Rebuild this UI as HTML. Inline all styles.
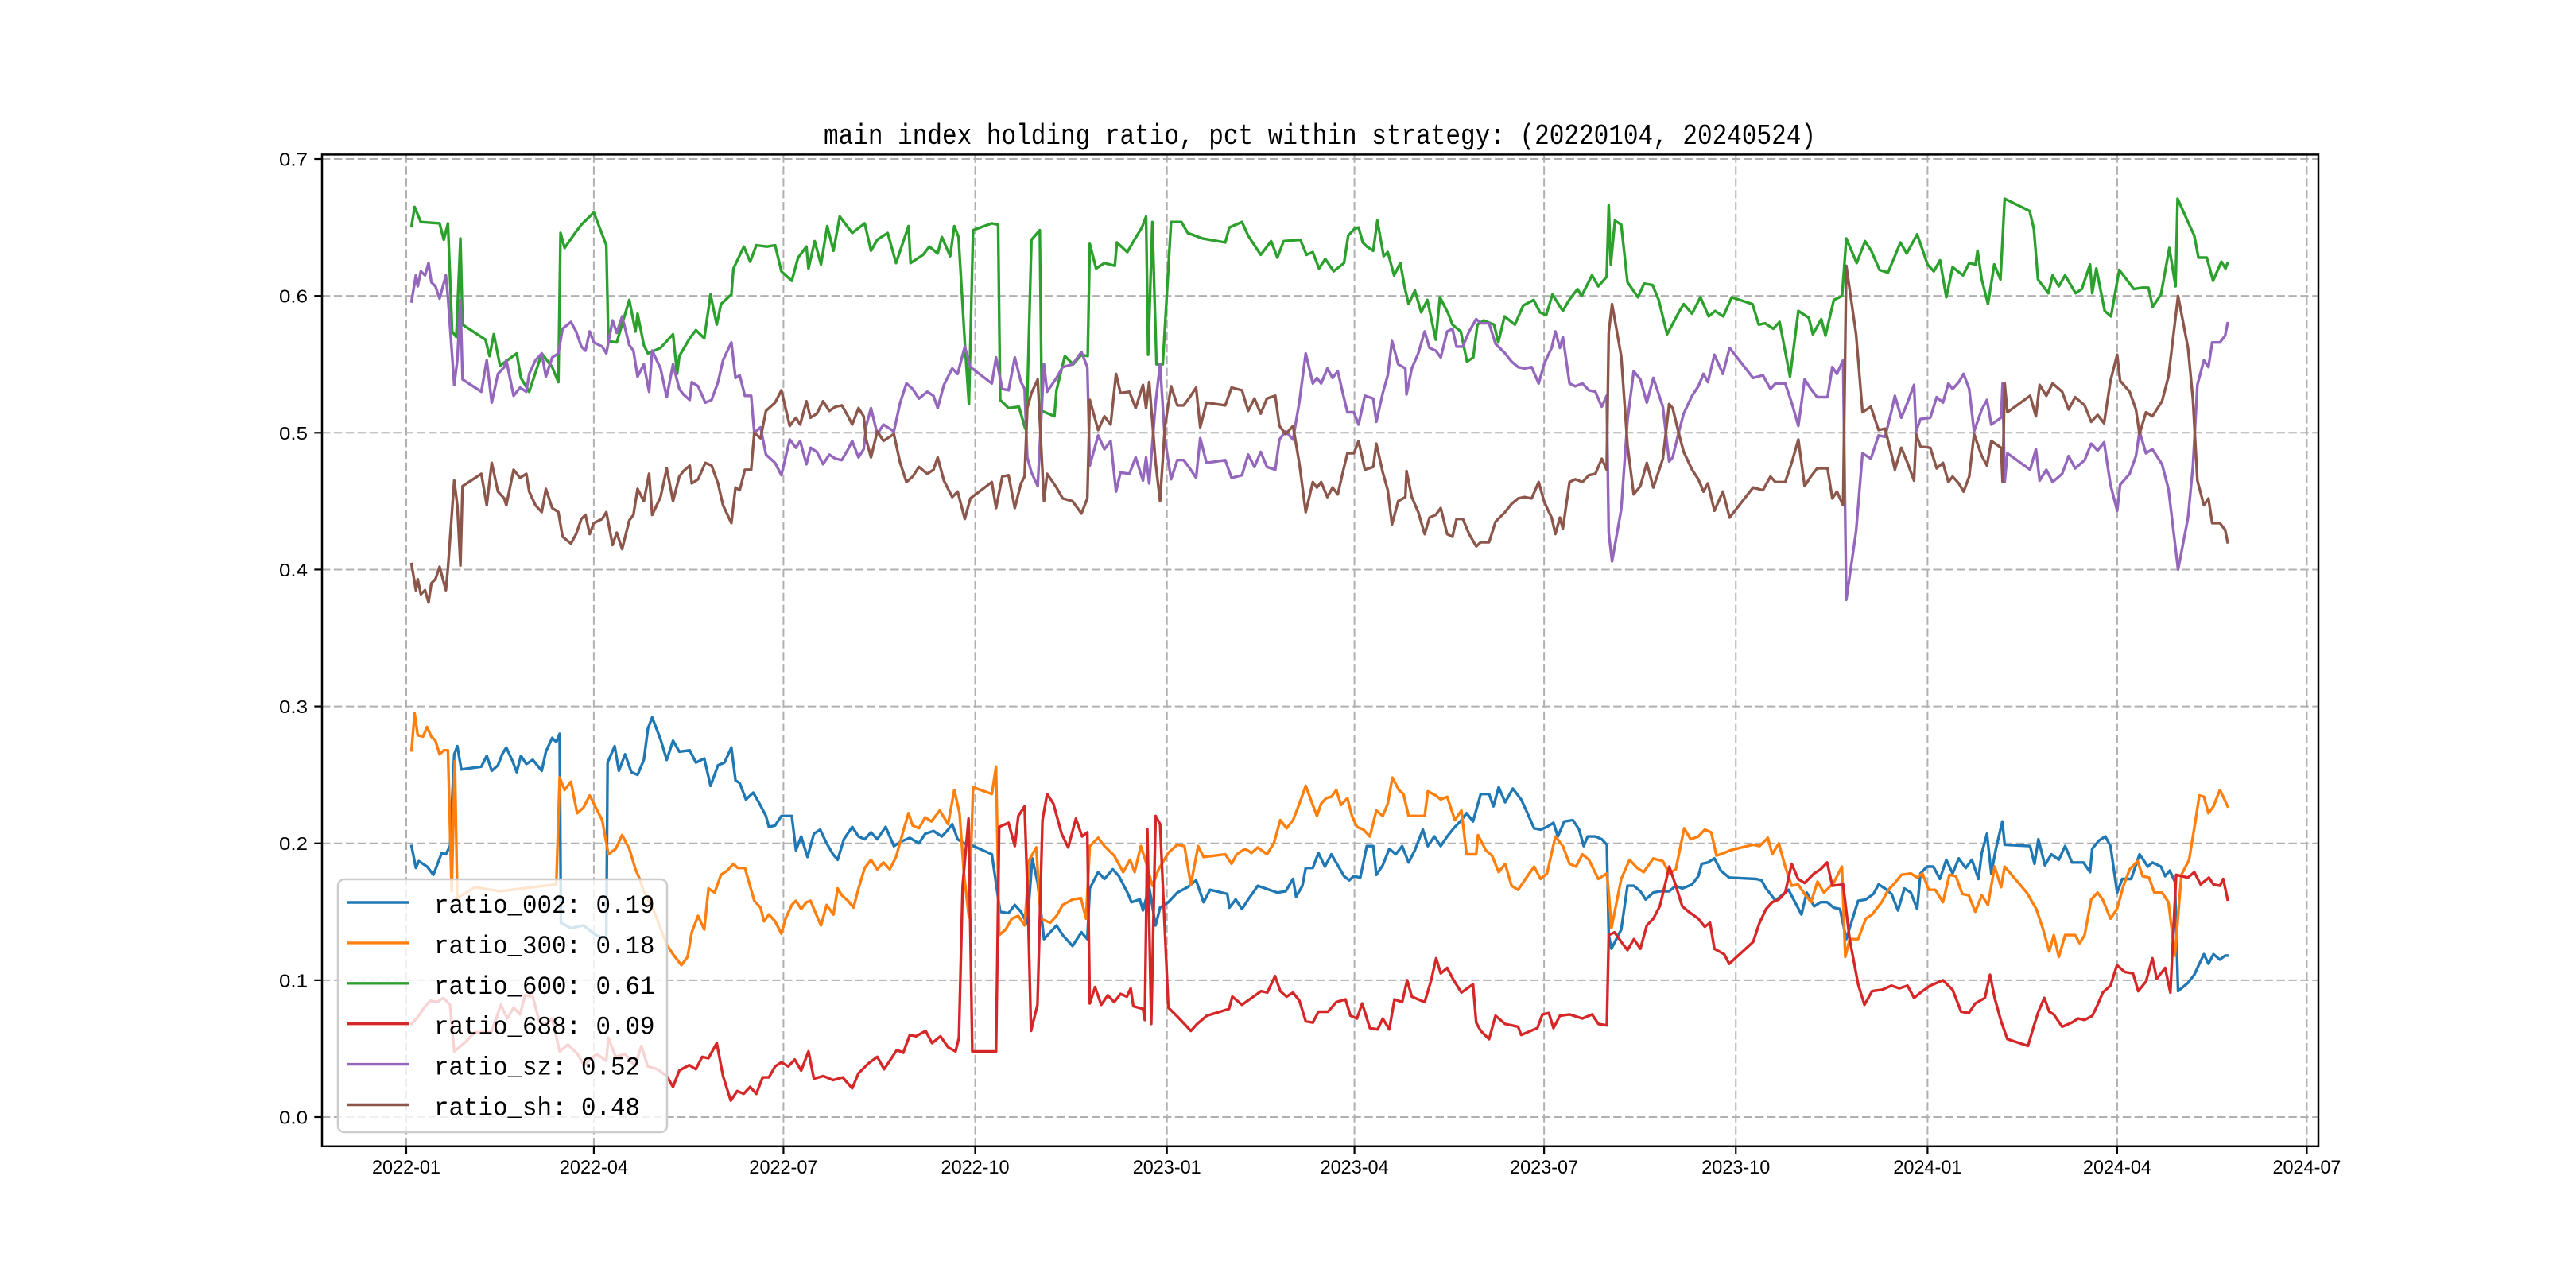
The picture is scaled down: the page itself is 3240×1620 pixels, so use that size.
<!DOCTYPE html>
<html><head><meta charset="utf-8"><title>main index holding ratio</title>
<style>html,body{margin:0;padding:0;background:#fff;}svg{display:block;}</style></head>
<body>
<svg id="chart" width="3240" height="1620" viewBox="0 0 3240 1620" xmlns="http://www.w3.org/2000/svg">
<rect x="0" y="0" width="3240" height="1620" fill="#ffffff"/>
<text x="1660" y="181" text-anchor="middle" font-family="Liberation Mono, monospace" font-size="36" textLength="1248" lengthAdjust="spacingAndGlyphs" fill="#000">main index holding ratio, pct within strategy: (20220104, 20240524)</text>
<g id="grid"></g>
<g id="series"></g>
<rect x="405" y="194.4" width="2511" height="1247.4" fill="none" stroke="#000" stroke-width="2.5"/>
<g id="ticks"></g>
<g id="legend">
<rect x="425" y="1106" width="414" height="318" rx="8" fill="#fff" fill-opacity="0.8" stroke="#cccccc" stroke-width="2.5"/>
</g>
</svg>
<script>
const tickDates = ['2022-01','2022-04','2022-07','2022-10','2023-01','2023-04','2023-07','2023-10','2024-01','2024-04','2024-07'];
const yTicks = [0.0,0.1,0.2,0.3,0.4,0.5,0.6,0.7];
const yTickLabels = ['0.0','0.1','0.2','0.3','0.4','0.5','0.6','0.7'];
const seriesNames = ['ratio_002','ratio_300','ratio_600','ratio_688','ratio_sz','ratio_sh'];
const legendValues = ['0.19','0.18','0.61','0.09','0.52','0.48'];
const colors = ['#1f77b4','#ff7f0e','#2ca02c','#d62728','#9467bd','#8c564b'];

// days since 2022-01-01
const days002 = [2.5,4.6,6,10,13,17,19,21,23,24.5,26.4,36,38.6,41,44,46,48,51,53,55,57.6,60.7,65,67,70,72,73.6,74.2,79,85,91,96,96.6,100,102,105,108,111,114,116,118,122,125,128,131,136,139,143,146,149.6,152.7,156,158,160,163,166.5,169.5,172.6,174,177,180,185,187,189.5,192.5,195.6,198.6,201.7,204.8,207,210,214,217,220,223,226,230,234,237,241.6,246,249,253,257,260,262,264.6,267.6,270.7,281,285,289,292,295,298,300.4,303,306,309,312,315,319.7,324,326.8,328,332,335,339,342,346.4,348,352,353.5,356.5,359.6,361.7,365.7,370,375,379,382.6,385.7,394,395,398,401,404,408.6,418,422,425.5,427,430,431.6,
435,437.7,440.8,443.9,447,450,452.5,454.7,457.8,460.9,464,465.5,468.6,471.7,474.8,477.9,481,484,487.8,490.2,493.3,496.4,499.5,502.6,506.3,508.8,511.9,515.6,519.6,521.7,524.2,527.3,531,535,538,541.2,544.3,547.4,550.5,552.6,555.7,559.8,562.8,565,566.9,570.6,573.7,576.1,577,578.3,583,586,589,592.2,594.7,598.4,601.5,606,609.2,612.3,617,620,621.6,624.6,627.7,630.8,634.8,647.8,650.3,652.5,654.6,657,660,663.3,666.4,669.5,672,675.6,678.7,681.8,684.9,688,691,693.6,696.7,700.4,704,706.5,709.6,712.7,715.8,718.9,722,725,726.6,729.7,732.8,735.9,739,742,745,748.3,751.3,754.4,756,758.5,760.6,762.8,765.9,767,779.2,781.3,783.2,786.3,789.4,793,796,799.3,801.7,804.8,808,809,812.2,815.3,817.8,821,823.4,827.7,831.7,835.7,837.9,842,844,846.2,848.7,850.2,854.9,858,859.5,862.6,864.8,867.2,870.3,872.8,874];
const vals002 = [.198,.182,.187,.183,.177,.193,.192,.198,.265,.271,.254,.256,.264,.253,.257,.265,.270,.260,.252,.264,.258,.261,.253,.267,.277,.274,.280,.142,.138,.140,.133,.130,.259,.271,.253,.265,.252,.250,.261,.284,.292,.276,.261,.275,.267,.268,.259,.262,.242,.257,.259,.270,.246,.244,.232,.237,.229,.220,.212,.213,.220,.220,.195,.205,.190,.207,.210,.200,.192,.188,.203,.212,.205,.203,.208,.203,.212,.198,.201,.204,.200,.207,.209,.205,.210,.214,.203,.200,.199,.192,.150,.149,.155,.150,.141,.189,.171,.130,.135,.140,.133,.125,.135,.130,.167,.179,.174,.181,.176,.163,.157,.159,.151,.168,.140,.153,.157,.164,.168,.173,.157,.166,.163,.153,.159,.152,.159,.169,.164,.165,.174,.161,.169,.182,
.182,.193,.183,.192,.184,.176,.173,.176,.175,.198,.198,.177,.184,.196,.192,.198,.186,.195,.210,.198,.205,.198,.205,.211,.217,.222,.216,.236,.236,.227,.241,.230,.240,.232,.222,.211,.210,.212,.215,.205,.216,.217,.210,.198,.205,.205,.203,.199,.133,.123,.137,.169,.169,.165,.159,.164,.165,.165,.169,.167,.170,.176,.185,.186,.189,.180,.175,.174,.173,.167,.163,.158,.162,.166,.157,.148,.164,.154,.157,.157,.153,.152,.130,.143,.158,.159,.163,.170,.167,.163,.151,.167,.164,.152,.178,.183,.183,.174,.188,.178,.189,.182,.188,.174,.193,.207,.178,.196,.216,.199,.198,.185,.203,.184,.192,.188,.198,.186,.186,.186,.179,.196,.202,.205,.198,.164,.174,.174,.192,.183,.186,.183,.176,.180,.172,.092,.098,.104,.109,.119,.112,.119,.115,.118,.118];

const days300 = [2.5,4,5.5,8,10,12,14,16,18,20,21.8,23.3,24.5,33,45,61,72,73.6,76,79,82,85,88,91,94,97,100.5,103.6,107,110,112,114,119,125,128,132,135,137,140,143,145,148,151,154,157,159,162.5,164,167,170,171.7,174,177,180,182,185,187,189.5,192,194,197,199,201.7,205,207,209,212,214.6,217,220,223,226,229,232,235,238.5,241,243,246,249,252,256,260,263,265.5,267.6,270,272,281,283,284.5,287.6,290.6,293.7,296.7,299,302.3,304.4,309,312,315,319.7,323.7,326.2,328,332,335,339.7,344,347.3,349.5,352.5,355,358,361,365.7,370,373.4,376.5,380,382.6,393,396,398.5,402.5,405.6,408.6,413,416.3,419.4,422.4,425.5,428.6,431.6,
435,437,439,441.4,443.9,446.3,448.5,451.6,453.8,456.2,459.3,462.4,465.5,468.6,471,473.2,476.3,478.5,481,488.7,490.2,494,496.4,499.5,503.2,506.3,508.8,513.4,514.3,518,521,524.2,527.3,530.4,533.5,538,541.2,544.3,547.4,551.4,555,558.2,561.3,564.4,567.5,572,576.1,577,578.3,583,587,590.7,593.8,598.4,603,606,609.2,613.2,616.3,620,623.1,626.2,628.7,632.4,635.5,646.3,649.4,653.4,655.5,658.6,661.7,664.8,667.9,671,674.1,677.2,680.3,684.9,688.9,690.5,692.6,696.7,700.4,703.4,708,711.2,714.3,717.4,722,725,727.5,730.6,733.7,737.4,740.5,743.6,746.7,749.8,752.9,756,759,762.2,765.3,767,777.6,782.2,785.3,788.4,790.6,793,796,800.8,803,805.4,808.5,811.6,814,817.8,820.9,824,827,830.8,833.2,836.3,838.8,842.5,845.6,848.7,851.8,855.5,858.6,860.4,862.6,864.8,867.2,870.3,871.9,874];
const vals300 = [.268,.295,.279,.278,.285,.278,.275,.265,.268,.268,.165,.260,.160,.168,.165,.168,.170,.248,.239,.245,.222,.226,.235,.226,.217,.192,.196,.206,.196,.181,.174,.165,.150,.126,.119,.111,.117,.135,.147,.137,.167,.164,.177,.180,.185,.182,.182,.174,.158,.153,.143,.148,.143,.134,.145,.155,.158,.152,.157,.158,.147,.140,.155,.148,.167,.162,.158,.153,.167,.182,.188,.181,.186,.181,.190,.209,.222,.213,.211,.219,.216,.224,.214,.239,.222,.178,.146,.241,.236,.256,.133,.137,.145,.147,.140,.188,.197,.145,.142,.147,.155,.159,.160,.145,.198,.204,.198,.191,.179,.188,.179,.198,.186,.169,.181,.193,.199,.198,.170,.198,.190,.192,.185,.192,.196,.193,.197,.192,.200,.217,.211,.217,.229,.242,
.228,.220,.229,.233,.234,.239,.228,.233,.220,.212,.210,.205,.224,.220,.229,.248,.239,.236,.220,.220,.238,.235,.232,.234,.217,.224,.192,.192,.206,.195,.191,.179,.185,.169,.166,.176,.183,.174,.178,.205,.198,.185,.183,.192,.188,.174,.178,.164,.138,.174,.188,.182,.179,.189,.187,.178,.181,.211,.203,.205,.210,.208,.191,.193,.195,.199,.198,.204,.192,.200,.183,.169,.170,.163,.157,.172,.164,.171,.183,.117,.130,.130,.145,.148,.157,.166,.171,.177,.178,.175,.178,.166,.166,.157,.177,.176,.163,.162,.150,.162,.155,.183,.168,.183,.164,.152,.138,.121,.133,.117,.133,.133,.127,.133,.159,.164,.159,.145,.152,.169,.181,.187,.176,.175,.164,.164,.157,.118,.177,.188,.217,.235,.234,.222,.227,.239,.234,.227];

const days600 = [2.5,4,7,16,18,20,22,24,26,27,38,40,42,45,53,55,59,65,70,73,74,76,81,84,90,96,97,101,107,110,111,114,116,122,128,130,131,136,139,143,146,149,151,156,157,162,165,168,173,177,180,185,188,192,193,196,199,202,205,208,214,220,223,226,231,235,241,242,248,251,255,257,261,263,265,268,270,272,281,284,285,289,294,297,298,300,304,305,311,312,316,320,324,327,328,331,335,340,341,346,349,353,355,356,358,360,363,367,372,375,382,393,395,401,404,410,415,418,421,429,432,
435,438,441,445,450,452,455,457,459,461,464,466,469,471,474,477,479,481,484,487,490,494,496,500,502,506,509,512,514,517,522,524,527,532,536,541,544,547,550,555,558,562,564,569,572,576,577,578,580,583,586,591,594,598,601,605,611,613,617,621,625,628,632,636,646,649,652,656,659,664,668,673,675,679,681,685,689,691,696,700,703,707,711,714,717,720,725,730,733,736,739,742,747,750,753,754,756,759,762,765,767,779,781,783,788,790,793,796,801,804,808,809,811,815,818,822,829,833,836,838,842,846,849,850,855,858,860,864,867,871,873,874];
const vals600 = [.651,.665,.654,.653,.641,.653,.574,.570,.642,.579,.568,.556,.572,.549,.558,.540,.530,.558,.548,.537,.646,.635,.646,.652,.661,.637,.567,.566,.597,.574,.587,.564,.558,.562,.572,.543,.556,.569,.575,.569,.601,.579,.594,.601,.620,.636,.625,.637,.636,.637,.618,.611,.628,.636,.620,.640,.623,.651,.633,.658,.646,.653,.633,.641,.646,.624,.651,.624,.630,.636,.631,.643,.629,.651,.643,.566,.521,.648,.653,.652,.524,.518,.519,.503,.526,.641,.648,.516,.512,.531,.556,.550,.557,.556,.638,.620,.624,.622,.639,.632,.640,.650,.658,.557,.654,.550,.550,.654,.654,.646,.642,.639,.650,.654,.644,.630,.640,.628,.640,.641,.630,
.632,.620,.627,.618,.624,.644,.649,.650,.639,.636,.633,.655,.629,.632,.615,.624,.607,.594,.604,.588,.597,.568,.599,.587,.579,.574,.552,.555,.579,.582,.579,.566,.585,.579,.593,.597,.588,.586,.601,.589,.597,.605,.600,.615,.607,.614,.666,.623,.655,.652,.610,.599,.609,.608,.597,.572,.589,.594,.587,.599,.585,.589,.585,.599,.594,.579,.580,.576,.581,.541,.589,.584,.572,.583,.571,.597,.600,.642,.624,.640,.633,.619,.617,.628,.639,.631,.645,.623,.618,.626,.599,.621,.615,.624,.623,.633,.612,.594,.623,.612,.671,.662,.649,.612,.602,.615,.607,.615,.602,.605,.623,.602,.620,.589,.585,.619,.605,.606,.606,.592,.601,.635,.607,.671,.654,.644,.628,.628,.611,.625,.620,.624];

const days688 = [2.5,5.5,8.6,11.6,14.7,17.8,21,23,25.4,28.5,33,37.7,40.8,45.4,48.4,51.5,54.6,57,60.7,63.8,66.8,70,73.6,77.6,82.2,85.2,91.4,96,97,100.5,105,109.7,112.8,115.9,120.5,125,128,131,135.8,138.9,142,145,149,152,155.7,158.8,161.9,165,168,171,174,177,180,183.3,186.4,189.5,193,195.6,200.2,204.8,209.4,214,217,221.6,226,229.3,232.4,235.4,238.5,241.6,244.6,249.2,252.3,256.3,260,263.6,265.2,267,269.8,271.6,283,284.5,289,292,293.7,296.7,298.3,299.8,302.9,305.3,307.5,310.5,314.5,317.6,321.3,324.3,326.8,328,330.5,333.5,336.6,339.7,342.7,345.8,347.6,348.9,353.5,354.4,355.6,357.5,359.6,361.7,365.7,370.3,376.5,379.5,384.1,394.8,396.4,401,405.6,410.2,413.2,416.9,419.4,422.4,425.5,428.6,431.6,
435,437.7,442.3,446.3,450.7,453.1,456.2,458.7,462.4,466.1,468.6,471.7,474.2,477.9,480.3,482.5,488.7,491.8,494.2,496.4,499.5,502.6,506.3,511.9,513.4,515.6,519.6,522.7,527.3,533.5,535,542.8,545.2,548.3,550.5,553.6,558.2,564.4,569,572.1,576.1,577,579.8,583.5,586,589.1,592.2,595.3,598.4,601.5,603.9,606.1,609.2,612.3,615.4,620,623.1,625.6,627.7,632.4,634.8,646.3,649.4,652.5,655.5,658.6,661.7,664.8,667.9,671,675.6,678.7,681.8,684.3,689.5,692.6,696.7,699.7,703.4,708.1,712.7,716.4,720.4,723.5,726.6,731.3,737.4,742,746.1,749.8,752.9,757.5,760,762.2,765.3,768.3,778.2,780.7,783.2,786,788.4,790.6,794.6,799.2,802.3,805.4,809.1,811.6,814.1,817.8,820.9,824.6,828.6,831.1,834.8,837.9,840,844,846.5,849.3,854.9,858,861,865,867.2,870.3,871.9,874];
const vals688 = [.068,.073,.080,.085,.084,.087,.082,.048,.051,.055,.062,.062,.062,.082,.072,.080,.075,.089,.088,.070,.068,.072,.048,.053,.046,.038,.046,.041,.058,.044,.046,.037,.052,.037,.035,.030,.022,.034,.038,.035,.044,.043,.054,.030,.012,.019,.017,.022,.017,.029,.029,.037,.040,.037,.042,.034,.048,.028,.030,.027,.029,.021,.032,.039,.044,.035,.042,.049,.047,.060,.059,.063,.054,.059,.051,.048,.058,.169,.218,.048,.048,.212,.215,.198,.220,.227,.155,.063,.082,.217,.236,.229,.207,.197,.218,.205,.208,.083,.095,.082,.089,.084,.090,.088,.094,.081,.079,.071,.210,.068,.220,.214,.080,.073,.063,.068,.074,.079,.088,.082,.087,.092,.091,.103,.092,.088,.091,.085,.070,
.069,.077,.077,.084,.086,.074,.072,.083,.065,.064,.072,.064,.086,.084,.100,.088,.084,.100,.116,.105,.109,.100,.091,.097,.069,.063,.057,.074,.068,.066,.060,.065,.075,.076,.065,.074,.075,.072,.075,.068,.067,.133,.135,.127,.122,.130,.123,.140,.145,.154,.169,.183,.169,.154,.150,.145,.139,.142,.123,.119,.112,.128,.142,.152,.157,.159,.164,.185,.174,.171,.178,.181,.186,.169,.170,.130,.097,.082,.092,.093,.096,.094,.096,.087,.091,.096,.100,.093,.077,.076,.083,.087,.104,.087,.070,.057,.052,.065,.077,.087,.077,.075,.066,.069,.072,.071,.074,.082,.091,.096,.111,.106,.105,.092,.099,.116,.101,.109,.091,.177,.175,.179,.170,.175,.170,.169,.174,.159];

const daysSzSh = [2.5,4.6,5.5,7,9,10.7,12,14,16,19,20,23,24.5,26,27,36,38.6,41,44,47,48,51.5,54.6,57.6,59,62,65,67,70,73,75,79,81.5,84,86,88,90,94,96,99,101,103.6,107,109,111,114,116.5,118,122,125,128,131,133,136,137,140,143.5,146.5,149.6,152,156,158,160,162.5,165.5,167,170,172.6,177,180,184,187,189,192,194,197,200,203,206,209,212,214,217,219.5,220.7,223,226,229,234,237,240,243,246,250,253,255,258,262,264.6,268,270.7,281,283,286,289,292,295,296.7,298,300,303,306,307.5,312,315,319.7,324,326.8,328,332,335,338,340.6,342.7,347,350,353.5,355,356.5,359.6,361.7,364,367,370,373,376,379,381,384,393,396,401,404,407,410,413,417,419,422,425.5,428.6,431.6,
435,437,439,442,444.5,447,449.4,451.6,454.7,457,460,464,465.5,468.6,471,473,476,479.4,480,482.5,485.6,488.7,491,494,496.4,499.5,502,504,507,510,513.4,515.6,519.6,522.7,527.3,530.4,533.5,536.6,540,543.4,546,548,549.6,551.4,553.6,555,558.2,561,564.4,567.5,570.6,573.7,576,577,578.6,583,586,589,592.2,595.3,598.4,603,606,607.7,610.7,613,617,620,622.5,624.6,627.7,631.8,635,646.3,651,654.6,657,661.7,664.8,668,671,674,677,682,684.3,686.5,689.5,691,695.7,698.8,702.8,706.5,709.6,712.7,714.3,717.4,720.4,723.5,724.5,726.6,731.3,734.4,737.4,740,742,745,747.3,750,752.3,756,758.5,760.6,765.3,766,767,768.3,779.2,782,783.8,787,790,794.6,797.7,800.8,805.4,808.5,811.6,814.7,817.8,821,822.4,827,830,831.7,834.8,837.9,842.5,845.6,850.2,855,857.3,859.5,862.6,864.8,866.6,870.3,872.8,874];
const valsSz = [.596,.615,.607,.618,.615,.624,.610,.607,.598,.615,.599,.535,.553,.597,.539,.530,.553,.522,.543,.548,.553,.527,.533,.530,.543,.553,.558,.541,.555,.558,.576,.581,.574,.563,.560,.574,.566,.563,.558,.582,.573,.585,.564,.560,.541,.550,.530,.560,.547,.526,.550,.532,.528,.524,.537,.534,.522,.524,.537,.553,.566,.540,.542,.527,.527,.500,.504,.484,.478,.469,.495,.489,.494,.477,.489,.486,.477,.484,.481,.480,.488,.494,.482,.488,.505,.518,.499,.506,.501,.522,.536,.532,.525,.530,.527,.518,.535,.547,.543,.563,.548,.536,.555,.532,.531,.555,.537,.532,.482,.471,.461,.550,.530,.540,.548,.550,.559,.548,.476,.498,.488,.494,.457,.471,.470,.482,.465,.482,.463,.522,.550,.496,.466,.480,.480,.474,.467,.496,.478,.480,.467,.469,.484,.475,.486,.475,.473,.495,.501,.495,.523,.558,
.536,.540,.536,.547,.540,.545,.529,.515,.515,.506,.527,.525,.508,.529,.542,.567,.550,.547,.528,.547,.558,.574,.562,.560,.555,.574,.576,.563,.563,.574,.583,.580,.580,.565,.558,.552,.548,.547,.548,.536,.550,.557,.562,.574,.562,.570,.536,.534,.536,.531,.530,.519,.527,.427,.406,.444,.509,.545,.539,.522,.540,.519,.479,.482,.501,.514,.527,.534,.543,.537,.557,.543,.562,.540,.542,.532,.536,.536,.522,.505,.539,.532,.526,.526,.548,.543,.553,.378,.428,.485,.481,.498,.497,.516,.527,.511,.522,.535,.501,.510,.511,.526,.522,.536,.532,.537,.543,.532,.501,.517,.524,.506,.511,.536,.464,.485,.473,.488,.465,.473,.464,.470,.483,.474,.480,.492,.487,.493,.462,.443,.462,.470,.483,.501,.485,.488,.477,.459,.400,.438,.475,.535,.553,.548,.566,.566,.571,.580];
const valsSh = [.404,.385,.393,.382,.385,.376,.390,.393,.402,.385,.401,.465,.447,.403,.461,.470,.447,.478,.457,.452,.447,.473,.467,.470,.457,.447,.442,.459,.445,.442,.424,.419,.426,.437,.440,.426,.434,.437,.442,.418,.427,.415,.436,.440,.459,.450,.470,.440,.453,.474,.450,.468,.472,.476,.463,.466,.478,.476,.463,.447,.434,.460,.458,.473,.473,.500,.496,.516,.522,.531,.505,.511,.506,.523,.511,.514,.523,.516,.519,.520,.512,.506,.518,.512,.495,.482,.501,.494,.499,.478,.464,.468,.475,.470,.473,.482,.465,.453,.457,.437,.452,.464,.445,.468,.469,.445,.463,.468,.518,.529,.539,.450,.470,.460,.452,.450,.441,.452,.524,.502,.512,.506,.543,.529,.530,.518,.535,.518,.537,.478,.450,.504,.534,.520,.520,.526,.533,.504,.522,.520,.533,.531,.516,.525,.514,.525,.527,.505,.499,.505,.477,.442,
.464,.460,.464,.453,.460,.455,.471,.485,.485,.494,.473,.475,.492,.471,.458,.433,.450,.453,.472,.453,.442,.426,.438,.440,.445,.426,.424,.437,.437,.426,.417,.420,.420,.435,.442,.448,.452,.453,.452,.464,.450,.443,.438,.426,.438,.430,.464,.466,.464,.469,.470,.481,.473,.573,.594,.556,.491,.455,.461,.478,.460,.481,.521,.518,.499,.486,.473,.466,.457,.463,.443,.457,.438,.460,.458,.468,.464,.464,.478,.495,.461,.468,.474,.474,.452,.457,.447,.622,.572,.515,.519,.502,.503,.484,.473,.489,.478,.465,.499,.490,.489,.474,.478,.464,.468,.463,.457,.468,.499,.483,.476,.494,.489,.464,.536,.515,.527,.512,.535,.527,.536,.530,.517,.526,.520,.508,.513,.507,.538,.557,.538,.530,.517,.499,.515,.512,.523,.541,.600,.562,.525,.465,.447,.452,.434,.434,.429,.420];

const NS = 'http://www.w3.org/2000/svg';
const X0 = 405, X1 = 2916, Y0 = 194.4, Y1 = 1441.8;
const epoch = Date.UTC(2022, 0, 1);
function xScale(day) { return 511 + day * 2.6211; }
function yScale(v) { return 1405 - v * 1721.4; }
function monthDay(s) { const p = s.split('-'); return (Date.UTC(+p[0], +p[1] - 1, 1) - epoch) / 86400000; }
function mk(tag, attrs, parent) { const e = document.createElementNS(NS, tag); for (const k in attrs) e.setAttribute(k, attrs[k]); parent.appendChild(e); return e; }

const grid = document.getElementById('grid');
const ticks = document.getElementById('ticks');
const seriesG = document.getElementById('series');
const legend = document.getElementById('legend');

tickDates.forEach(function (t) {
  const x = xScale(monthDay(t));
  const gl = mk('line', {x1: x, x2: x, y1: Y0, y2: Y1, stroke: '#b0b0b0', 'stroke-width': 2, 'stroke-dasharray': '10.4,4.5'}, grid);
  
  
  const tk = mk('line', {x1: x, x2: x, y1: Y1, y2: Y1 + 9.7, stroke: '#000', 'stroke-width': 2.2}, ticks);
  
  
  const lb = mk('text', {x: x, y: 1476, 'text-anchor': 'middle', 'font-family': 'Liberation Sans, sans-serif', 'font-size': 24, textLength: 86, lengthAdjust: 'spacingAndGlyphs', fill: '#000'}, ticks);
  lb.textContent = t;
  
  
});
yTicks.forEach(function (v, i) {
  const y = yScale(v);
  const gl = mk('line', {x1: X0, x2: X1, y1: y, y2: y, stroke: '#b0b0b0', 'stroke-width': 2, 'stroke-dasharray': '10.4,4.5'}, grid);
  
  
  const tk = mk('line', {x1: X0 - 9.7, x2: X0, y1: y, y2: y, stroke: '#000', 'stroke-width': 2.2}, ticks);
  
  
  const lb = mk('text', {x: 387, y: y + 8.5, 'text-anchor': 'end', 'font-family': 'Liberation Sans, sans-serif', 'font-size': 23, textLength: 36, lengthAdjust: 'spacingAndGlyphs', fill: '#000'}, ticks);
  lb.textContent = yTickLabels[i];
  
  
});

const allDays = [days002, days300, days600, days688, daysSzSh, daysSzSh];
const allVals = [vals002, vals300, vals600, vals688, valsSz, valsSh];
allDays.forEach(function (ds, si) {
  const vs = allVals[si];
  const n = Math.min(ds.length, vs.length);
  let d = '';
  for (let i = 0; i < n; i++) d += (i ? 'L' : 'M') + xScale(ds[i]).toFixed(1) + ',' + yScale(vs[i]).toFixed(1);
  const p = mk('path', {d: d, fill: 'none', stroke: colors[si], 'stroke-width': 3.4, 'stroke-linejoin': 'round', 'stroke-linecap': 'square'}, seriesG);
  
  
});

seriesNames.forEach(function (name, i) {
  const y = 1135 + i * 50.9;
  const ln = mk('line', {x1: 437, x2: 515, y1: y, y2: y, stroke: colors[i], 'stroke-width': 3.4}, legend);
  
  
  const label = name + ': ' + legendValues[i];
  const tx = mk('text', {x: 546, y: y + 13, 'font-family': 'Liberation Mono, monospace', 'font-size': 32, textLength: label.length * 18.5, lengthAdjust: 'spacingAndGlyphs', fill: '#000'}, legend);
  tx.textContent = label;
  
  
});
</script>
</body></html>
